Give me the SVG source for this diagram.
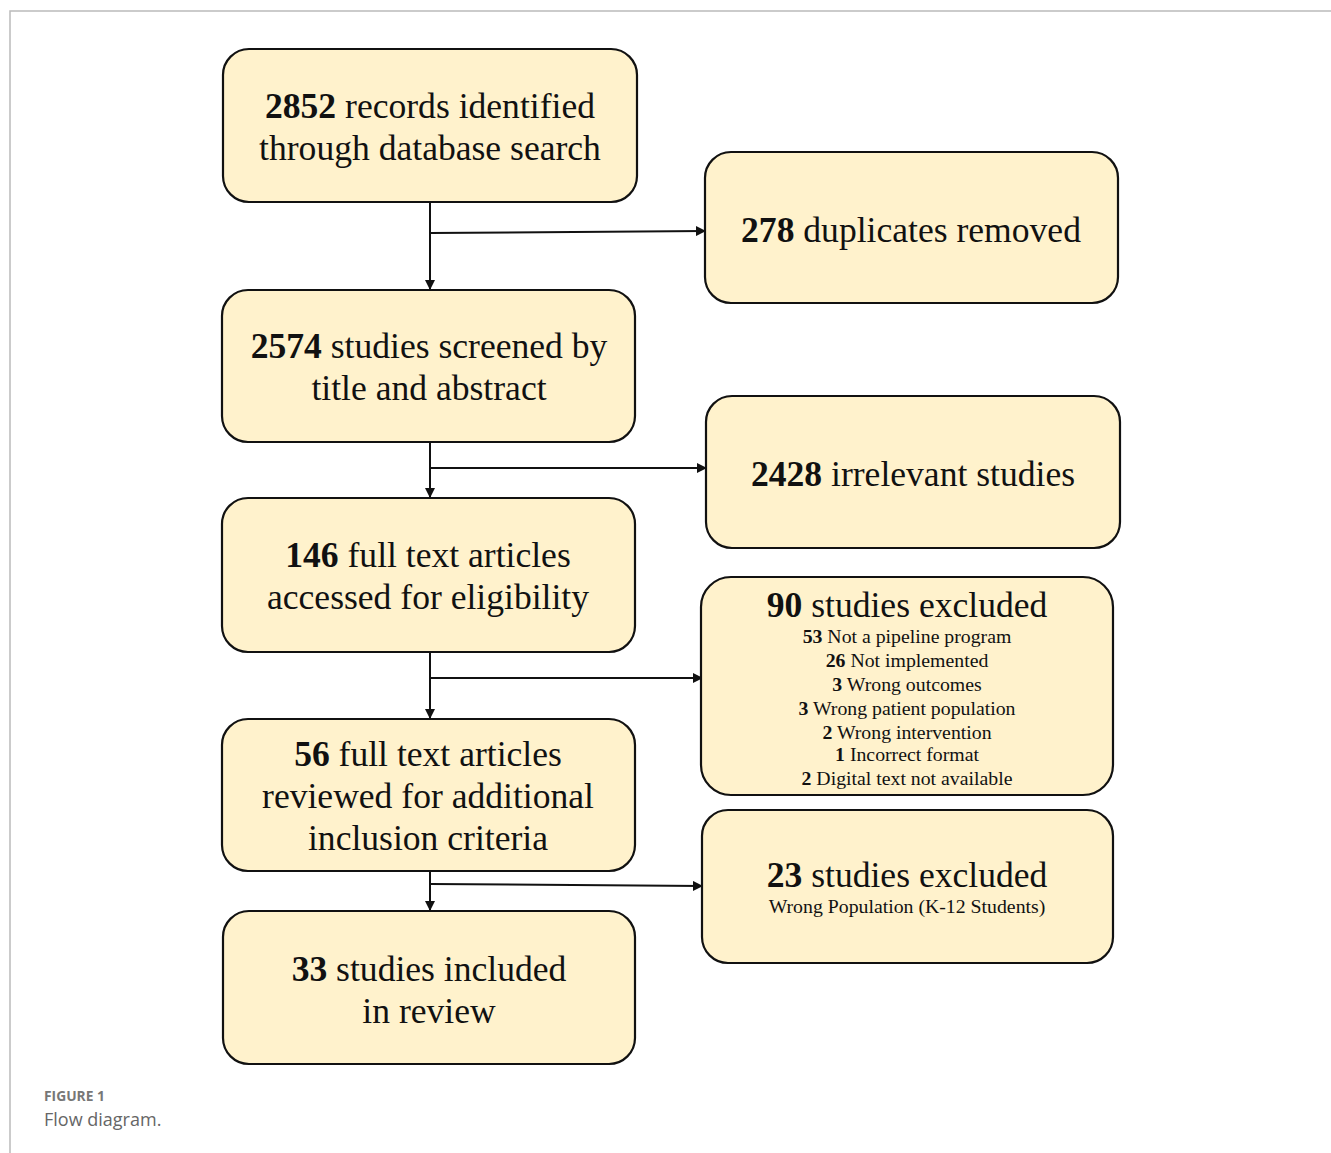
<svg xmlns="http://www.w3.org/2000/svg" width="1331" height="1153" viewBox="0 0 1331 1153">
<style>
.box{fill:#fff2cc;stroke:#111;stroke-width:2.2}
.t{font-family:"Liberation Serif","Times New Roman",serif;font-size:35.6px;fill:#111;text-anchor:middle}
.s{font-family:"Liberation Serif","Times New Roman",serif;font-size:19.8px;fill:#111;text-anchor:middle}
.b{font-weight:bold}
.c{stroke:#111;stroke-width:2;fill:none}
</style>
<defs>
<marker id="ah" markerWidth="10" markerHeight="10" refX="9" refY="5" orient="auto" markerUnits="userSpaceOnUse">
<path d="M0,0 L10,5 L0,10 Z" fill="#111"/>
</marker>
</defs>
<path d="M10,1153 L10,11 L1331,11" fill="none" stroke="#bbb" stroke-width="1.5"/>
<g id="connectors">
<line class="c" x1="430" y1="202" x2="430" y2="289" marker-end="url(#ah)"/>
<line class="c" x1="430" y1="233" x2="705" y2="231" marker-end="url(#ah)"/>
<line class="c" x1="430" y1="442" x2="430" y2="497" marker-end="url(#ah)"/>
<line class="c" x1="430" y1="468" x2="706" y2="468" marker-end="url(#ah)"/>
<line class="c" x1="430" y1="652" x2="430" y2="718" marker-end="url(#ah)"/>
<line class="c" x1="430" y1="678" x2="702" y2="678" marker-end="url(#ah)"/>
<line class="c" x1="430" y1="871" x2="430" y2="910" marker-end="url(#ah)"/>
<line class="c" x1="430" y1="884" x2="702" y2="886" marker-end="url(#ah)"/>
</g>
<g id="n1">
<rect class="box" x="223" y="49" width="414" height="153" rx="26"/>
<text class="t" x="430" y="118"><tspan class="b">2852</tspan> records identified</text>
<text class="t" x="430" y="160">through database search</text>
</g>
<g id="n2">
<rect class="box" x="705" y="152" width="413" height="151" rx="26"/>
<text class="t" x="911" y="242"><tspan class="b">278</tspan> duplicates removed</text>
</g>
<g id="n3">
<rect class="box" x="222" y="290" width="413" height="152" rx="26"/>
<text class="t" x="429" y="358"><tspan class="b">2574</tspan> studies screened by</text>
<text class="t" x="429" y="400">title and abstract</text>
</g>
<g id="n4">
<rect class="box" x="706" y="396" width="414" height="152" rx="26"/>
<text class="t" x="913" y="486"><tspan class="b">2428</tspan> irrelevant studies</text>
</g>
<g id="n5">
<rect class="box" x="222" y="498" width="413" height="154" rx="26"/>
<text class="t" x="428" y="567"><tspan class="b">146</tspan> full text articles</text>
<text class="t" x="428" y="609">accessed for eligibility</text>
</g>
<g id="n6">
<rect class="box" x="701" y="577" width="412" height="218" rx="30"/>
<text class="t" x="907" y="617"><tspan class="b">90</tspan> studies excluded</text>
<text class="s" x="907" y="643"><tspan class="b">53</tspan> Not a pipeline program</text>
<text class="s" x="907" y="667"><tspan class="b">26</tspan> Not implemented</text>
<text class="s" x="907" y="691"><tspan class="b">3</tspan> Wrong outcomes</text>
<text class="s" x="907" y="715"><tspan class="b">3</tspan> Wrong patient population</text>
<text class="s" x="907" y="739"><tspan class="b">2</tspan> Wrong intervention</text>
<text class="s" x="907" y="761"><tspan class="b">1</tspan> Incorrect format</text>
<text class="s" x="907" y="785"><tspan class="b">2</tspan> Digital text not available</text>
</g>
<g id="n7">
<rect class="box" x="222" y="719" width="413" height="152" rx="26"/>
<text class="t" x="428" y="766"><tspan class="b">56</tspan> full text articles</text>
<text class="t" x="428" y="808">reviewed for additional</text>
<text class="t" x="428" y="850">inclusion criteria</text>
</g>
<g id="n8">
<rect class="box" x="702" y="810" width="411" height="153" rx="26"/>
<text class="t" x="907" y="887"><tspan class="b">23</tspan> studies excluded</text>
<text class="s" x="907" y="913">Wrong Population (K-12 Students)</text>
</g>
<g id="n9">
<rect class="box" x="223" y="911" width="412" height="153" rx="26"/>
<text class="t" x="429" y="981"><tspan class="b">33</tspan> studies included</text>
<text class="t" x="429" y="1023">in review</text>
</g>
<text x="44" y="1101" font-family="'Open Sans',sans-serif" font-size="13.8" font-weight="bold" fill="#777">FIGURE 1</text>
<text x="44" y="1126" font-family="'Open Sans',sans-serif" font-size="18" fill="#666">Flow diagram.</text>
</svg>
